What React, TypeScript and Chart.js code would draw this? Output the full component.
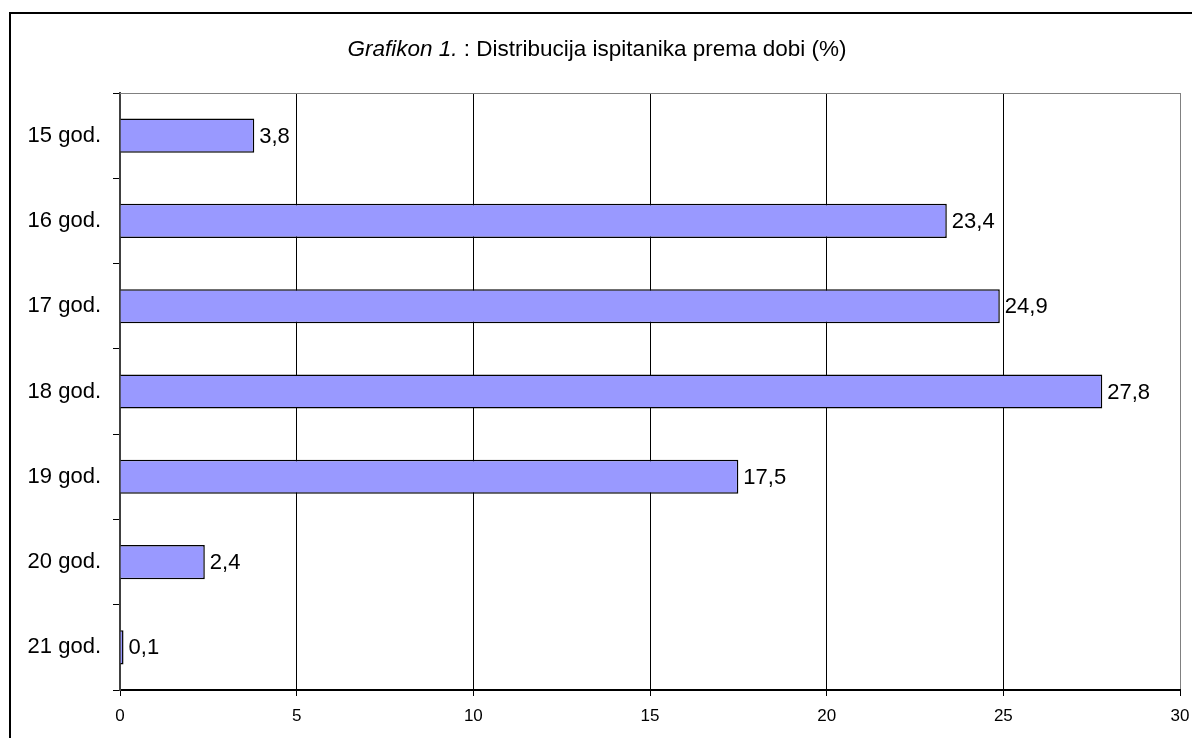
import React, { useEffect, useRef } from "react";
import { Chart, registerables } from "chart.js";

Chart.register(...registerables);

const categories = ["15 god.", "16 god.", "17 god.", "18 god.", "19 god.", "20 god.", "21 god."];
const values = [3.8, 23.4, 24.9, 27.8, 17.5, 2.4, 0.1];
const titleItalic = "Grafikon 1.";
const titleRest = " : Distribucija ispitanika prema dobi (%)";
const xMin = 0;
const xMax = 30;
const xStep = 5;

const FONT = "'Liberation Sans', Arial, sans-serif";

const decorPlugin = {
  id: "decor",
  beforeDraw(chart: any) {
    const ctx = chart.ctx;
    ctx.save();
    ctx.fillStyle = "#fff";
    ctx.fillRect(0, 0, chart.width, chart.height);
    ctx.restore();
  },
  afterDraw(chart: any) {
    const ctx = chart.ctx;
    const area = chart.chartArea;
    ctx.save();
    // outer border (top + left)
    ctx.fillStyle = "#000";
    ctx.fillRect(9, 12, chart.width - 9, 2);
    ctx.fillRect(9, 12, 2, chart.height - 12);
    // plot area top border (gray)
    ctx.strokeStyle = "#808080";
    ctx.lineWidth = 1;
    ctx.beginPath();
    ctx.moveTo(area.left, area.top + 0.5);
    ctx.lineTo(area.right, area.top + 0.5);
    ctx.stroke();
    // title with mixed styles
    const size = 22.5;
    ctx.fillStyle = "#000";
    ctx.textBaseline = "middle";
    ctx.textAlign = "left";
    ctx.font = `italic ${size}px ${FONT}`;
    const w1 = ctx.measureText(titleItalic).width;
    ctx.font = `${size}px ${FONT}`;
    const w2 = ctx.measureText(titleRest).width;
    const cx = 597;
    const cy = 50;
    let x = cx - (w1 + w2) / 2;
    ctx.font = `italic ${size}px ${FONT}`;
    ctx.fillText(titleItalic, x, cy);
    ctx.font = `${size}px ${FONT}`;
    ctx.fillText(titleRest, x + w1, cy);
    // value labels
    const meta = chart.getDatasetMeta(0);
    ctx.font = `22px ${FONT}`;
    ctx.textBaseline = "middle";
    meta.data.forEach((bar: any, i: number) => {
      const txt = String(values[i]).replace(".", ",");
      ctx.fillText(txt, bar.x + 5, bar.y + 1);
    });
    ctx.restore();
  },
};

export default function App() {
  const ref = useRef<HTMLCanvasElement>(null);
  useEffect(() => {
    document.body.style.margin = "0";
    document.documentElement.style.overflow = "hidden";
    document.body.style.overflow = "hidden";
    if (!ref.current) return;
    const chart = new Chart(ref.current, {
      type: "bar",
      data: {
        labels: categories,
        datasets: [
          {
            data: values,
            backgroundColor: "#9999FF",
            borderColor: "#000",
            borderWidth: 1.5,
            barPercentage: 0.4,
            categoryPercentage: 1,
          },
        ],
      },
      options: {
        indexAxis: "y",
        animation: false,
        responsive: false,
        devicePixelRatio: 1,
        layout: { padding: { top: 93, right: 12, left: 8, bottom: 0 } },
        plugins: {
          legend: { display: false },
          title: { display: false },
          tooltip: { enabled: false },
        },
        scales: {
          x: {
            type: "linear",
            min: xMin,
            max: xMax,
            afterFit: (s: any) => {
              s.height = 48;
              s.paddingRight = 0;
              s.paddingLeft = 0;
            },
            ticks: {
              stepSize: xStep,
              color: "#000",
              font: { family: FONT, size: 17 },
              padding: 10,
              maxRotation: 0,
            },
            grid: {
              color: (c: any) => (c.tick && c.tick.value === xMax ? "#808080" : "#000"),
              tickColor: "#000",
              lineWidth: 1,
              tickLength: 6,
            },
            border: { display: true, color: "#000", width: 2 },
          },
          y: {
            type: "category",
            afterFit: (s: any) => {
              s.width = 112;
              s.paddingTop = 0;
              s.paddingBottom = 0;
            },
            ticks: {
              color: "#000",
              font: { family: FONT, size: 22 },
              padding: 12,
            },
            grid: {
              offset: true,
              drawOnChartArea: false,
              color: "#000",
              tickLength: 7,
              lineWidth: 1,
            },
            border: { display: true, color: "#404040", width: 2 },
          },
        },
      },
      plugins: [decorPlugin],
    });
    return () => chart.destroy();
  }, []);
  return (
    <div>
      <canvas ref={ref} width={1192} height={738} style={{ display: "block" }} />
    </div>
  );
}
